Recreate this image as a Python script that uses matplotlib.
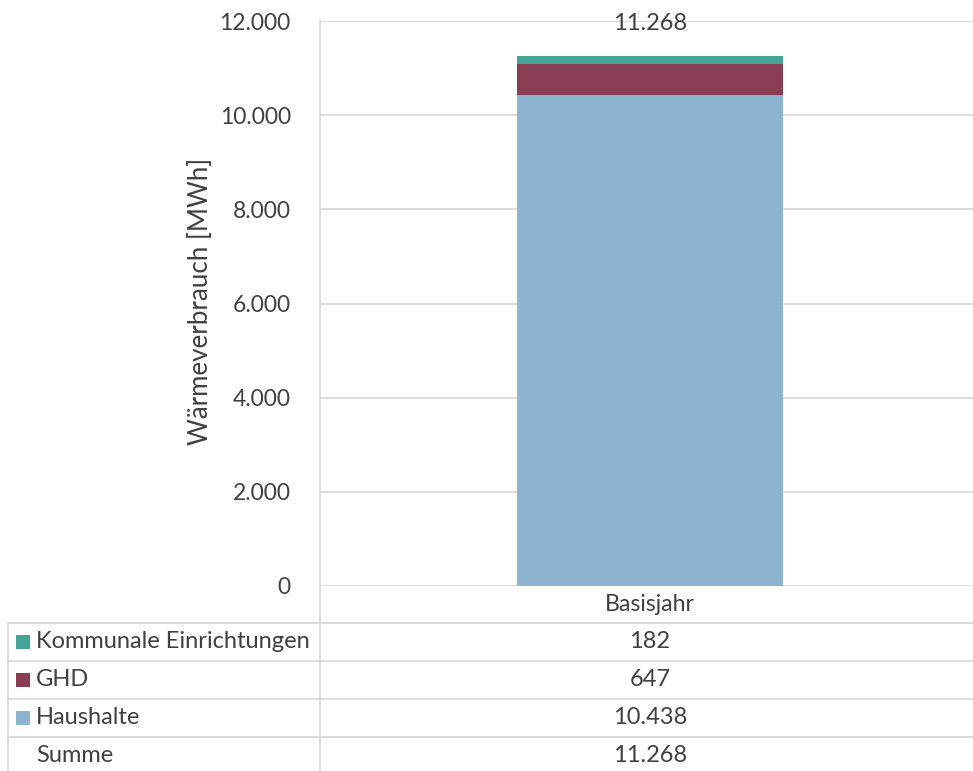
import matplotlib
matplotlib.use("Agg")
import matplotlib.pyplot as plt
from matplotlib.ticker import FuncFormatter

plt.rcParams['font.family'] = ['Lato', 'DejaVu Sans']

categories = ["Basisjahr"]
series_names = ["Kommunale Einrichtungen", "GHD", "Haushalte"]
haushalte = [10438]
ghd = [647]
kommunal = [182]
totals = [11268]
colors = {"Haushalte": "#8DB4CF", "GHD": "#8A3E53", "Kommunale Einrichtungen": "#44A597"}
yticks = [0, 2000, 4000, 6000, 8000, 10000, 12000]

TXT = "#404040"
GRID = "#D9D9D9"
FS = 16.5
FS_TAB = 17
FS_YLAB = 18.6

W, H = 973, 771
fig = plt.figure(figsize=(W / 100, H / 100), dpi=100)

def fx(px):
    return px / W

def fy(py):
    return 1 - py / H

# main plot area
ax = fig.add_axes([fx(320), fy(586), fx(973) - fx(320), fy(21) - fy(586)])
x = list(range(len(categories)))
bw = 0.407
ax.bar(x, haushalte, width=bw, color=colors["Haushalte"], zorder=3)
ax.bar(x, ghd, width=bw, bottom=haushalte, color=colors["GHD"], zorder=3)
bottom2 = [h + g for h, g in zip(haushalte, ghd)]
ax.bar(x, kommunal, width=bw, bottom=bottom2, color=colors["Kommunale Einrichtungen"], zorder=3)

fmt = lambda v: f"{int(round(v)):,}".replace(",", ".")
for xi, t in zip(x, totals):
    ax.annotate(fmt(t), (xi, t), xytext=(0, 32), textcoords="offset pixels",
                ha="center", va="center", fontsize=FS + 0.5, color=TXT)

ax.set_xlim(-0.5055, 0.4945)
ax.set_ylim(0, 12000)
ax.set_yticks(yticks)
ax.yaxis.set_major_formatter(FuncFormatter(lambda v, p: fmt(v)))
ax.tick_params(axis="y", length=0, pad=21, labelsize=FS, labelcolor=TXT)
ax.set_xticks([])
ax.grid(axis="y", color=GRID, lw=1.3, zorder=0)
for s in ["top", "right", "bottom"]:
    ax.spines[s].set_visible(False)
ax.spines["left"].set_color(GRID)
ax.spines["left"].set_linewidth(1.3)

fig.text(fx(201), fy(301), "Wärmeverbrauch [MWh]", rotation=90, ha="center", va="center",
         fontsize=FS_YLAB, color=TXT)

# data table area (pixel coordinates)
tab = fig.add_axes([0, 0, 1, fy(586)])
tab.set_xlim(0, W)
tab.set_ylim(H, 586)
tab.axis("off")

col_x = 320
col_c = 650
left_x = 8
row_h = 38
first_row = 623
for i, c in enumerate(categories):
    tab.text(col_c, 605, c, ha="center", va="center", fontsize=FS_TAB - 0.4, color=TXT)
tab.plot([col_x, col_x], [586, H], color=GRID, lw=1.3)
tab.plot([left_x, left_x], [first_row, H], color=GRID, lw=1.3)

rows = [("Kommunale Einrichtungen", kommunal), ("GHD", ghd), ("Haushalte", haushalte), ("Summe", totals)]
for r, (name, vals) in enumerate(rows):
    ytop = first_row + r * row_h
    yc = ytop + row_h / 2
    tab.plot([left_x, W], [ytop, ytop], color=GRID, lw=1.3)
    if name in colors:
        tab.scatter([23], [yc], marker="s", s=100, color=colors[name], linewidths=0)
    tab.text(36, yc, name, ha="left", va="center", fontsize=FS_TAB, color=TXT)
    for xi, v in enumerate(vals):
        tab.text(col_c, yc, fmt(v), ha="center", va="center", fontsize=FS_TAB, color=TXT)

fig.savefig("out.png", dpi=100)
